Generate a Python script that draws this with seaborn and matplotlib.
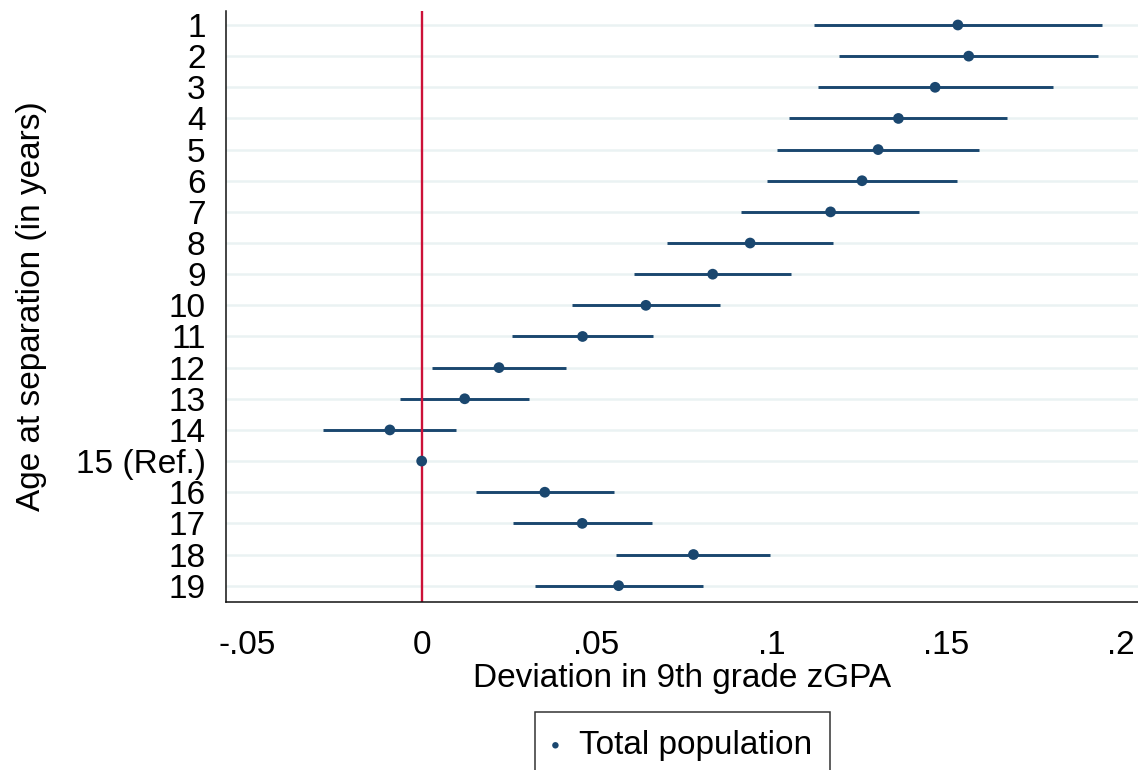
"""
Coefficient plot: deviation in 9th grade zGPA by age at separation
"""

import matplotlib
matplotlib.use("Agg")
import matplotlib.pyplot as plt
import seaborn as sns

# estimates (15 is the reference category)
ages  = ["1", "2", "3", "4", "5", "6", "7", "8", "9", "10", "11", "12",
         "13", "14", "15 (Ref.)", "16", "17", "18", "19"]
coef  = [.1533, .1564, .1468, .1363, .1305, .1259, .1169, .0939, .0832, .0641,
         .0460, .0221, .0123, -.0091, 0.0, .0352, .0459, .0777, .0563]
ci_lo = [.1122, .1194, .1132, .1051, .1015, .0988, .0914, .0702, .0607, .0429,
         .0259, .0029, -.0062, -.0283, 0.0, .0156, .0261, .0556, .0323]
ci_hi = [.1946, .1934, .1805, .1674, .1594, .1531, .1423, .1177, .1057, .0854,
         .0662, .0412, .0307, .0099, 0.0, .0551, .0658, .0997, .0803]

xticks      = [-.05, 0, .05, .1, .15, .2]
xtick_names = ["-.05", "0", ".05", ".1", ".15", ".2"]

NAVY = "#1a476f"
RED  = "#cc1138"
GRID = "#eaf2f3"

sns.set_style("white")
plt.rcParams["font.family"] = ["Liberation Sans", "DejaVu Sans"]
plt.rcParams["text.color"] = "black"
plt.rcParams["axes.labelcolor"] = "black"

fig = plt.figure(figsize=(11.38, 7.70), dpi=100)
ax = fig.add_axes([0.1983, 0.2186, 0.8017, 0.7671])

# horizontal guides, reference line, CIs, points
ax.grid(axis="y", color=GRID, lw=1.8, zorder=0)
ax.grid(axis="x", visible=False)
ax.hlines(ages, ci_lo, ci_hi, color=NAVY, lw=2.1, zorder=2)
ax.axvline(0, color=RED, lw=1.7, zorder=2.5)
sns.scatterplot(x=coef, y=ages, color=NAVY, s=60, edgecolor="none",
                label="Total population", zorder=3, ax=ax)

ax.set_xlim(-0.05604, 0.2048)
ax.set_ylim(18.514, -0.449)
ax.set_xticks(xticks)
ax.set_xticklabels(xtick_names)

for side in ["top", "right"]:
    ax.spines[side].set_visible(False)
for side in ["left", "bottom"]:
    ax.spines[side].set_color("#111111")
    ax.spines[side].set_linewidth(1.1)

ax.tick_params(axis="both", which="major", direction="out", length=9.5,
               width=1.1, color="#111111", labelsize=24, labelcolor="black")
ax.tick_params(axis="x", pad=11)
ax.tick_params(axis="y", pad=5)

ax.set_xlabel("Deviation in 9th grade zGPA", fontsize=24, labelpad=1)
ax.set_ylabel("Age at separation (in years)", fontsize=24)
ax.yaxis.set_label_coords(-0.196, 0.5)

handles, labels = ax.get_legend_handles_labels()
ax.get_legend().remove()
leg = fig.legend(handles, labels, loc="upper center",
                 bbox_to_anchor=(0.600, 0.0757), borderaxespad=0,
                 frameon=True, fontsize=24, markerscale=0.6,
                 handletextpad=0.65, handlelength=0.1, borderpad=0.55,
                 fancybox=False)
leg.get_frame().set_edgecolor("black")
leg.get_frame().set_linewidth(1.1)

plt.savefig("out.png", dpi=100)
